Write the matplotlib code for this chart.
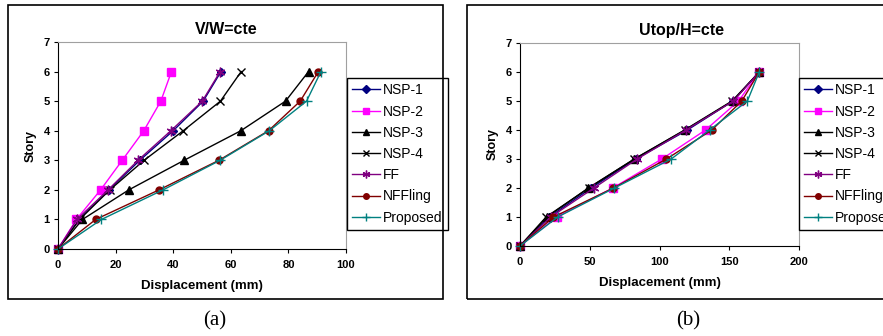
import matplotlib
matplotlib.use("Agg")
import matplotlib.pyplot as plt
from matplotlib.patches import Rectangle

plt.rcParams['font.family'] = ['Liberation Sans', 'DejaVu Sans']

stories = [0, 1, 2, 3, 4, 5, 6]
series_names = ["NSP-1", "NSP-2", "NSP-3", "NSP-4", "FF", "NFFling", "Proposed"]

# Panel (a): V/W = cte
a_nsp1 = [0, 7.3, 17.7, 28.4, 40.0, 50.4, 56.6]
a_nsp2 = [0, 6.4, 14.8, 22.3, 29.8, 35.7, 39.4]
a_nsp3 = [0, 8.5, 24.6, 43.8, 63.5, 79.0, 87.0]
a_nsp4 = [0, 7.5, 18.0, 29.9, 43.5, 56.4, 63.6]
a_ff = [0, 6.6, 17.4, 27.8, 39.2, 50.1, 56.3]
a_nffling = [0, 13.1, 35.1, 55.9, 73.1, 84.1, 90.4]
a_proposed = [0, 15.1, 36.5, 56.3, 73.4, 86.3, 91.3]

# Panel (b): Utop/H = cte
b_nsp1 = [0, 21.0, 51.0, 83.0, 120.0, 152.6, 171.5]
b_nsp2 = [0, 26.3, 66.5, 101.7, 133.0, 156.7, 171.5]
b_nsp3 = [0, 19.4, 49.0, 82.0, 118.4, 152.6, 171.5]
b_nsp4 = [0, 18.7, 49.3, 82.0, 118.0, 152.0, 171.5]
b_ff = [0, 22.0, 53.0, 84.0, 119.0, 153.0, 171.5]
b_nffling = [0, 24.0, 67.0, 105.0, 137.5, 159.0, 171.5]
b_proposed = [0, 27.0, 67.7, 108.4, 135.9, 163.0, 171.5]

styles = {
    "NSP-1": dict(color="#000080", marker="D", ms=4.5),
    "NSP-2": dict(color="#FF00FF", marker="s", ms=5.5),
    "NSP-3": dict(color="#000000", marker="^", ms=6),
    "NSP-4": dict(color="#000000", marker="x", ms=6, mew=1.0),
    "FF": dict(color="#800080", marker=(6, 2, 0), ms=7, mew=1.0),
    "NFFling": dict(color="#800000", marker="o", ms=5),
    "Proposed": dict(color="#008080", marker="+", ms=7, mew=1.0),
}

W, H = 883, 336
fig = plt.figure(figsize=(W / 100, H / 100), dpi=100)


def px_axes(x0, y0, x1, y1):
    return fig.add_axes([x0 / W, (H - y1) / H, (x1 - x0) / W, (y1 - y0) / H])


def draw_panel(ax, data, xmax, xticks, title, title_x, leg_x, leg_y):
    for name, xs in zip(series_names, data):
        st = styles[name]
        ax.plot(xs, stories, color=st["color"], marker=st["marker"], ms=st["ms"],
                mew=st.get("mew", 1.0), lw=1.0, label=name, clip_on=False)
    ax.set_xlim(0, xmax)
    ax.set_ylim(0, 7)
    ax.set_xticks(xticks)
    ax.set_yticks(range(8))
    ax.tick_params(direction="out", length=3, width=0.8, labelsize=8)
    ax.tick_params(axis="x", pad=5)
    ax.tick_params(axis="y", pad=3)
    for lab in ax.get_xticklabels() + ax.get_yticklabels():
        lab.set_fontweight("bold")
    ax.spines["left"].set_color("black")
    ax.spines["bottom"].set_color("black")
    ax.spines["top"].set_color("#a0a0a0")
    ax.spines["right"].set_color("#a0a0a0")
    ax.set_xlabel("Displacement (mm)", fontsize=9.5, fontweight="bold", labelpad=7)
    ax.set_ylabel("Story", fontsize=9, fontweight="bold", labelpad=5)
    ax.set_title(title, fontsize=11.5, fontweight="bold", pad=6, x=title_x)
    leg = ax.legend(loc="upper left", bbox_to_anchor=(leg_x / W, (H - leg_y) / H),
                    bbox_transform=fig.transFigure, fontsize=10, frameon=True,
                    fancybox=False, edgecolor="black", framealpha=1,
                    handlelength=2.0, handletextpad=0.2, labelspacing=0.52,
                    borderpad=0.38, borderaxespad=0, markerscale=0.8)
    leg.get_frame().set_linewidth(1.0)


ax1 = px_axes(58, 42, 346, 249)
draw_panel(ax1, [a_nsp1, a_nsp2, a_nsp3, a_nsp4, a_ff, a_nffling, a_proposed],
           100, [0, 20, 40, 60, 80, 100], "V/W=cte", (226 - 58) / (346 - 58), 347, 78)

ax2 = px_axes(520, 43, 799, 246)
draw_panel(ax2, [b_nsp1, b_nsp2, b_nsp3, b_nsp4, b_ff, b_nffling, b_proposed],
           200, [0, 50, 100, 150, 200], "Utop/H=cte", (681 - 520) / (799 - 520), 799, 78)

# Panel frames
fig.add_artist(Rectangle((8 / W, (H - 299) / H), (443 - 8) / W, (299 - 5) / H,
                         transform=fig.transFigure, fill=False, edgecolor="black",
                         lw=1.2, zorder=10))
fig.add_artist(Rectangle((467 / W, (H - 299) / H), (900 - 467) / W, (299 - 5) / H,
                         transform=fig.transFigure, fill=False, edgecolor="black",
                         lw=1.2, zorder=10))

fig.text(215 / W, (H - 321) / H, "(a)", fontsize=15, family="Liberation Serif",
         ha="center", va="center")
fig.text(688 / W, (H - 321) / H, "(b)", fontsize=15, family="Liberation Serif",
         ha="center", va="center")

fig.savefig("out.png", dpi=100)
